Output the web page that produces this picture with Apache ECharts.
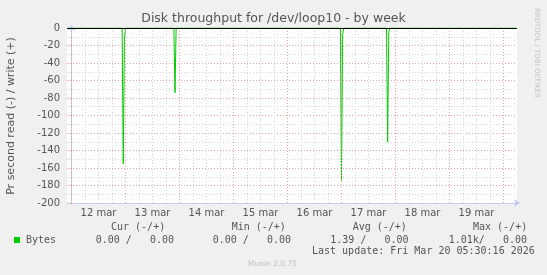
<!DOCTYPE html>
<html>
<head>
<meta charset="utf-8">
<script src="https://cdn.jsdelivr.net/npm/echarts@6/dist/echarts.min.js"></script>
<style>
html,body{margin:0;padding:0;background:#f0f0f0;}
#chart{width:547px;height:275px;}
</style>
</head>
<body>
<div id="chart"></div>
<script>
// ---- data (x = hours since 12 mar 00:00) ----
const readTimes  = [-2, 22.5, 23, 23.5, 24, 45.5, 46, 46.5, 119.5, 120, 120.5, 121, 140, 140.5, 141, 141.5, 197.5];
const readValues = [0, 0, -155, -14, 0, 0, -74, 0, 0, -174, -8, 0, 0, -130, -5, 0, 0];
const dayLabels = ['12 mar', '13 mar', '14 mar', '15 mar', '16 mar', '17 mar', '18 mar', '19 mar'];
const dayTicks = [0, 24, 48, 72, 96, 120, 144, 168, 192];
const sixHourTicks = [6, 12, 18, 30, 36, 42, 54, 60, 66, 78, 84, 90, 102, 108, 114, 126, 132, 138, 150, 156, 162, 174, 180, 186];
const yTicks = { min: -200, max: 0, step: 20 };
const xRange = { min: -2, max: 198 };
const titleText = 'Disk throughput for /dev/loop10 - by week';
const yAxisTitle = 'Pr second read (-) / write (+)';
const sideText = 'RRDTOOL / TOBI OETIKER';
const legendHeaders = ['Cur (-/+)', 'Min (-/+)', 'Avg (-/+)', 'Max (-/+)'];
const legendSeries = 'Bytes';
const legendValues = ['0.00 /   0.00', '0.00 /   0.00', '1.39 /   0.00', '1.01k/   0.00'];
const lastUpdate = 'Last update: Fri Mar 20 05:30:16 2026';
const versionText = 'Munin 2.0.75';

// ---- layout ----
const chart = echarts.init(document.getElementById('chart'), null, {renderer: 'canvas'});
const GREEN = '#00cc00';
const TXT = '#555555';
const AX = '#c4c8f4';
const MONO = 'DejaVu Sans Mono';
const SANS = 'DejaVu Sans';
const headerX = [111, 231.7, 352.7, 473];
const valueX = [95.7, 212.7, 330.3, 448.7];

const pairs = readTimes.map((t, i) => [t, readValues[i]]);

const graphics = [
  {type: 'text', left: 'center', top: 12, style: {text: titleText, font: '12.5px "DejaVu Sans"', fill: TXT}},
  {type: 'text', x: 11, y: 116, rotation: Math.PI / 2,
   style: {text: yAxisTitle, font: '11px "DejaVu Sans"', fill: TXT, align: 'center', verticalAlign: 'middle'}},
  {type: 'text', x: 537, y: 53, rotation: -Math.PI / 2,
   style: {text: sideText, font: '7px "DejaVu Sans"', fill: '#c4c4c4', align: 'center', verticalAlign: 'middle'}},
  {type: 'rect', shape: {x: 14, y: 237, width: 6, height: 6}, style: {fill: GREEN}},
  {type: 'text', x: 26, y: 240, style: {text: legendSeries, font: '10px "' + MONO + '"', fill: TXT, verticalAlign: 'middle'}},
  {type: 'text', x: 312, y: 251.5, style: {text: lastUpdate, font: '10px "' + MONO + '"', fill: TXT, verticalAlign: 'middle'}},
  {type: 'text', x: 272.5, y: 264, style: {text: versionText, font: '7.5px "DejaVu Sans"', fill: '#c0c0c0', align: 'center', verticalAlign: 'middle'}}
];
legendHeaders.forEach((h, i) => graphics.push({type: 'text', x: headerX[i], y: 227.5,
  style: {text: h, font: '10px "' + MONO + '"', fill: TXT, verticalAlign: 'middle'}}));
legendValues.forEach((v, i) => graphics.push({type: 'text', x: valueX[i], y: 240,
  style: {text: v, font: '10px "' + MONO + '"', fill: TXT, verticalAlign: 'middle'}}));

const option = {
  animation: false,
  backgroundColor: '#f0f0f0',
  grid: {left: 67, top: 28, width: 450, height: 175, show: true, backgroundColor: '#ffffff', borderWidth: 0},
  xAxis: {
    type: 'value', min: xRange.min, max: xRange.max, interval: 2,
    axisLine: {show: true, onZero: false, lineStyle: {color: AX, width: 1}, symbol: ['none', 'arrow'], symbolSize: [6, 6], symbolOffset: [0, 3]},
    axisTick: {show: false},
    splitLine: {show: false},
    axisLabel: {
      color: TXT, fontSize: 10, fontFamily: SANS, margin: 5,
      formatter: v => ((v - 12) % 24 === 0 && (v - 12) / 24 >= 0 && (v - 12) / 24 < dayLabels.length) ? dayLabels[(v - 12) / 24] : ''
    }
  },
  yAxis: {
    type: 'value', min: yTicks.min, max: yTicks.max, interval: yTicks.step,
    axisLine: {show: true, lineStyle: {color: AX, width: 1}, symbol: ['none', 'arrow'], symbolSize: [6, 6], symbolOffset: [0, 3]},
    axisTick: {show: true, length: 2, lineStyle: {color: '#e8a0a0'}},
    minorTick: {show: true, splitNumber: 2, length: 2, lineStyle: {color: '#d0d0d0'}},
    splitLine: {show: true, lineStyle: {color: '#eaa0a0', type: [1, 2], width: 1}},
    minorSplitLine: {show: true, lineStyle: {color: '#d4d4d4', type: [1, 2], width: 1}},
    axisLabel: {color: TXT, fontSize: 10, fontFamily: SANS, margin: 7}
  },
  series: [
    {
      type: 'line', data: [[xRange.min, 0]], symbol: 'none', lineStyle: {opacity: 0}, silent: true, z: 1,
      markLine: {
        silent: true, symbol: ['none', 'none'], label: {show: false}, animation: false,
        data: sixHourTicks.map(t => ({xAxis: t, lineStyle: {color: '#d4d4d4', type: [1, 2], width: 1}}))
          .concat(dayTicks.map(t => ({xAxis: t, lineStyle: {color: '#eaa0a0', type: [1, 2], width: 1}})))
      }
    },
    {
      name: 'Bytes', type: 'line', data: pairs, symbol: 'none', z: 3,
      lineStyle: {color: GREEN, width: 1}
    },
    {
      type: 'line', data: [[xRange.min, 0]], symbol: 'none', lineStyle: {opacity: 0}, silent: true, z: 4,
      markLine: {
        silent: true, symbol: ['none', 'none'], label: {show: false}, animation: false,
        data: [{yAxis: 0, lineStyle: {color: '#000000', type: 'solid', width: 1}}]
      }
    }
  ],
  graphic: graphics
};
chart.setOption(option);
</script>
</body>
</html>
